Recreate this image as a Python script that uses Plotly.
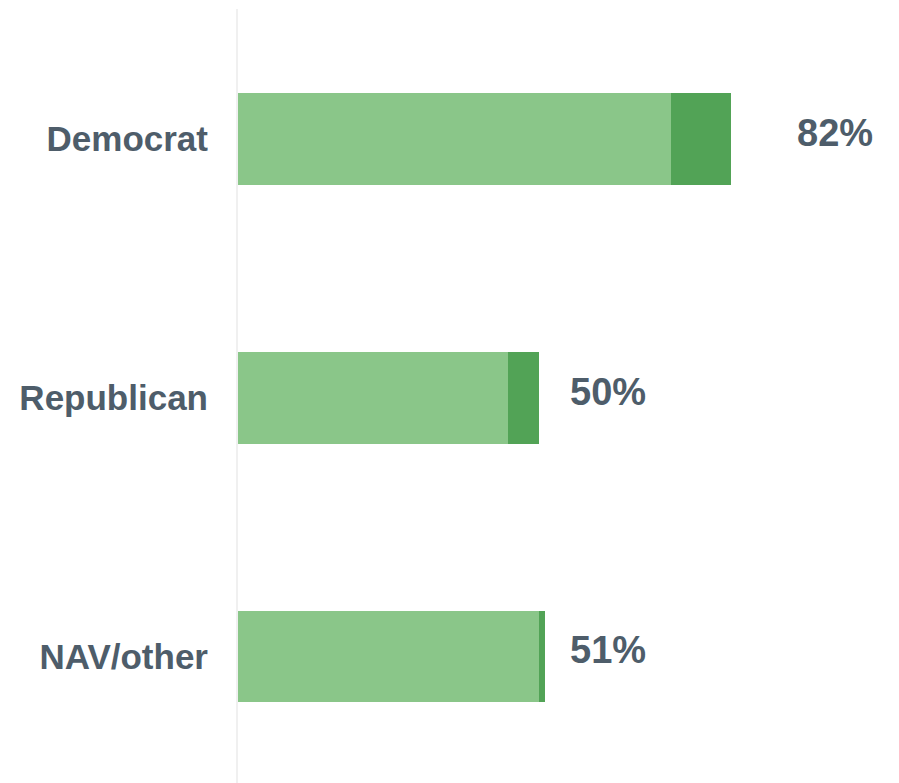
import plotly.graph_objects as go

categories = ["Democrat", "Republican", "NAV/other"]
light_values = [72, 45, 50]
dark_values = [10, 5, 1]
total_labels = ["82%", "50%", "51%"]

LIGHT = "#8AC689"
DARK = "#52A356"
TEXT = "#4E5D6A"
FONT = "Liberation Sans, Arial, sans-serif"

fig = go.Figure()
fig.add_trace(go.Bar(y=categories, x=light_values, orientation="h",
                     marker=dict(color=LIGHT, line=dict(width=0)),
                     width=0.355, hoverinfo="skip"))
fig.add_trace(go.Bar(y=categories, x=dark_values, orientation="h",
                     marker=dict(color=DARK, line=dict(width=0)),
                     width=0.355, hoverinfo="skip"))

label_x = [92.7, 54.9, 54.9]
for cat, lx, lab in zip(categories, label_x, total_labels):
    fig.add_annotation(x=lx, y=cat, text=lab, showarrow=False,
                       xanchor="left", yanchor="middle", yshift=6,
                       font=dict(family=FONT, size=38, color=TEXT, weight="bold"))

fig.update_layout(
    barmode="stack",
    width=899, height=783,
    margin=dict(l=230, r=0, t=1, b=0),
    paper_bgcolor="white", plot_bgcolor="white",
    showlegend=False,
    xaxis=dict(range=[0, 111.3], showgrid=False, showticklabels=False,
               zeroline=False, showline=False, fixedrange=True),
    yaxis=dict(range=[2.52, -0.5024], showgrid=False, zeroline=False,
               showline=True, linecolor="#F0F0F0", linewidth=2,
               tickfont=dict(family=FONT, size=35, color=TEXT, weight="bold"),
               ticks="", ticklabelstandoff=21),
)

fig.write_html("out.html")
